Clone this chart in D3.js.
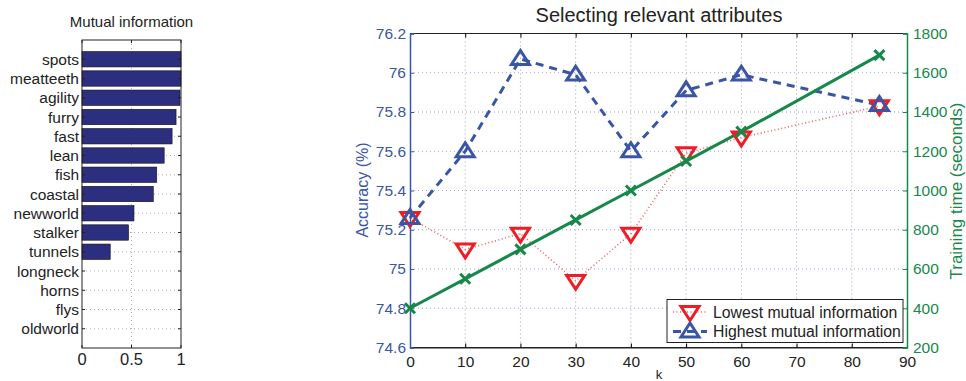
<!DOCTYPE html>
<html>
<head>
<meta charset="utf-8">
<script src="https://cdn.jsdelivr.net/npm/d3@7"></script>
<style>
  body { margin: 0; background: #fff; }
  svg { font-family: "Liberation Sans", Arial, sans-serif; }
</style>
</head>
<body>
<svg id="chart" width="966" height="381"></svg>
<script>
// Left panel: mutual information per attribute
const attributes = ["spots", "meatteeth", "agility", "furry", "fast", "lean", "fish", "coastal",
    "newworld", "stalker", "tunnels", "longneck", "horns", "flys", "oldworld"];
const mutualInfo = [1.0, 1.0, 0.99, 0.95, 0.91, 0.83, 0.755, 0.72, 0.525, 0.47, 0.285, 0, 0, 0, 0];
const miTicks = [0, 0.5, 1];

// Right panel: accuracy and training time vs k
const kValues = [0, 10, 20, 30, 40, 50, 60, 85];
const lowestMI = [75.26, 75.10, 75.18, 74.94, 75.18, 75.59, 75.67, 75.83];
const highestMI = [75.26, 75.60, 76.07, 75.99, 75.60, 75.91, 75.99, 75.835];
const trainTime = [400, 550, 700, 850, 1000, 1150, 1300, 1690];
const kTicks = [0, 10, 20, 30, 40, 50, 60, 70, 80, 90];
const accTicks = [74.6, 74.8, 75, 75.2, 75.4, 75.6, 75.8, 76, 76.2];
const timeTicks = [200, 400, 600, 800, 1000, 1200, 1400, 1600, 1800];

const blue = "#3a55a6";
const green = "#16884a";
const red = "#ee1c24";
const svg = d3.select("#chart");

// ---------- left bar chart ----------
const L = { left: 82, right: 181, top: 40, bottom: 348 };
const xMI = d3.scaleLinear().domain([0, 1]).range([L.left, L.right]);
const yCat = d3.scaleLinear().domain([0, attributes.length + 1]).range([L.top, L.bottom]);
const barH = (yCat(1) - yCat(0)) * 0.8;

const lg = svg.append("g");
// grid
lg.selectAll("line.hgrid").data(attributes).enter().append("line")
    .attr("x1", L.left).attr("x2", L.right)
    .attr("y1", (d, i) => yCat(i + 1)).attr("y2", (d, i) => yCat(i + 1))
    .attr("stroke", "#999").attr("stroke-width", 0.8).attr("stroke-dasharray", "1,3");
lg.selectAll("line.vgrid").data(miTicks.slice(1, -1)).enter().append("line")
    .attr("x1", d => xMI(d)).attr("x2", d => xMI(d))
    .attr("y1", L.top).attr("y2", L.bottom)
    .attr("stroke", "#999").attr("stroke-width", 0.8).attr("stroke-dasharray", "1,3");

lg.selectAll("rect.bar").data(mutualInfo).enter().append("rect")
    .attr("x", xMI(0))
    .attr("y", (d, i) => yCat(i + 1) - barH / 2)
    .attr("width", d => xMI(d) - xMI(0))
    .attr("height", d => d > 0 ? barH : 0)
    .attr("fill", "#2c2e80").attr("stroke", "#111").attr("stroke-width", 0.6);

lg.append("rect").attr("x", L.left).attr("y", L.top)
    .attr("width", L.right - L.left).attr("height", L.bottom - L.top)
    .attr("fill", "none").attr("stroke", "#222").attr("stroke-width", 1);

// category labels + ticks on both sides
attributes.forEach((a, i) => {
    const y = yCat(i + 1);
    lg.append("line").attr("x1", L.left).attr("x2", L.left + 3).attr("y1", y).attr("y2", y).attr("stroke", "#222");
    lg.append("line").attr("x1", L.right).attr("x2", L.right - 3).attr("y1", y).attr("y2", y).attr("stroke", "#222");
    lg.append("text").attr("x", L.left - 3).attr("y", y).attr("dy", "0.36em")
        .attr("text-anchor", "end").attr("font-size", 15.5).attr("fill", "#222").text(a);
});
miTicks.forEach(t => {
    lg.append("line").attr("x1", xMI(t)).attr("x2", xMI(t)).attr("y1", L.bottom).attr("y2", L.bottom - 3).attr("stroke", "#222");
    lg.append("line").attr("x1", xMI(t)).attr("x2", xMI(t)).attr("y1", L.top).attr("y2", L.top + 3).attr("stroke", "#222");
    lg.append("text").attr("x", xMI(t)).attr("y", 365)
        .attr("text-anchor", "middle").attr("font-size", 16.5).attr("fill", "#222").text(t);
});
lg.append("text").attr("x", (L.left + L.right) / 2).attr("y", 27)
    .attr("text-anchor", "middle").attr("font-size", 15).attr("fill", "#222").text("Mutual information");

// ---------- right line chart ----------
const R = { left: 410, right: 907, top: 33.5, bottom: 347.5 };
const x = d3.scaleLinear().domain([0, 90]).range([R.left, R.right]);
const yAcc = d3.scaleLinear().domain([74.6, 76.2]).range([R.bottom, R.top]);
const yTime = d3.scaleLinear().domain([200, 1800]).range([R.bottom, R.top]);

const rg = svg.append("g");
// grid
rg.selectAll("line.kgrid").data(kTicks.slice(1, -1)).enter().append("line")
    .attr("x1", d => x(d)).attr("x2", d => x(d)).attr("y1", R.top).attr("y2", R.bottom)
    .attr("stroke", "#888").attr("stroke-width", 0.8).attr("stroke-dasharray", "1,3");
rg.selectAll("line.agrid").data(accTicks.slice(1, -1)).enter().append("line")
    .attr("x1", R.left).attr("x2", R.right).attr("y1", d => yAcc(d)).attr("y2", d => yAcc(d))
    .attr("stroke", "#7b86d6").attr("stroke-width", 0.8).attr("stroke-dasharray", "1,3");

// top/bottom frame
rg.append("line").attr("x1", R.left).attr("x2", R.right).attr("y1", R.top).attr("y2", R.top).attr("stroke", "#222");
rg.append("line").attr("x1", R.left).attr("x2", R.right).attr("y1", R.bottom).attr("y2", R.bottom).attr("stroke", "#222");

// axes
rg.append("g").attr("transform", `translate(0,${R.bottom})`)
    .call(d3.axisBottom(x).tickValues(kTicks).tickSize(-4).tickPadding(8))
    .call(g => g.select(".domain").attr("stroke", "#222"))
    .call(g => g.selectAll("text").attr("font-size", 15.5).attr("fill", "#222"));
rg.append("g").attr("transform", `translate(0,${R.top})`)
    .call(d3.axisTop(x).tickValues(kTicks).tickSize(-4).tickFormat(""))
    .call(g => g.select(".domain").remove());
rg.append("g").attr("transform", `translate(${R.left},0)`)
    .call(d3.axisLeft(yAcc).tickValues(accTicks).tickSize(-4).tickPadding(4).tickFormat(d3.format("")))
    .call(g => g.select(".domain").attr("stroke", blue).attr("stroke-width", 1.5))
    .call(g => g.selectAll("line").attr("stroke", blue))
    .call(g => g.selectAll("text").attr("font-size", 15.5).attr("fill", blue));
rg.append("g").attr("transform", `translate(${R.right},0)`)
    .call(d3.axisRight(yTime).tickValues(timeTicks).tickSize(-4).tickPadding(6).tickFormat(d3.format("")))
    .call(g => g.select(".domain").attr("stroke", green).attr("stroke-width", 1.5))
    .call(g => g.selectAll("line").attr("stroke", green))
    .call(g => g.selectAll("text").attr("font-size", 15.5).attr("fill", green));
rg.selectAll(".tick text").attr("font-family", "\"Liberation Sans\", Arial, sans-serif");

// lines
const accLine = d3.line().x((d, i) => x(kValues[i])).y(d => yAcc(d));
const timeLine = d3.line().x((d, i) => x(kValues[i])).y(d => yTime(d));

rg.append("path").datum(lowestMI).attr("d", accLine).attr("fill", "none")
    .attr("stroke", red).attr("stroke-opacity", 0.7).attr("stroke-width", 1.6).attr("stroke-dasharray", "1,2.5");
rg.append("path").datum(highestMI).attr("d", accLine).attr("fill", "none")
    .attr("stroke", blue).attr("stroke-width", 3).attr("stroke-dasharray", "8,6");
rg.append("path").datum(trainTime).attr("d", timeLine).attr("fill", "none")
    .attr("stroke", green).attr("stroke-width", 3);

// markers
const tri = 9;
function triDown(cx, cy) {
    return `M${cx - tri},${cy - tri * 0.6}L${cx + tri},${cy - tri * 0.6}L${cx},${cy + tri * 0.95}Z`;
}
function triUp(cx, cy) {
    return `M${cx - tri},${cy + tri * 0.6}L${cx + tri},${cy + tri * 0.6}L${cx},${cy - tri * 0.95}Z`;
}
rg.selectAll("path.lo").data(lowestMI).enter().append("path")
    .attr("d", (d, i) => triDown(x(kValues[i]), yAcc(d)))
    .attr("fill", "none").attr("stroke", red).attr("stroke-width", 3);
rg.selectAll("path.hi").data(highestMI).enter().append("path")
    .attr("d", (d, i) => triUp(x(kValues[i]), yAcc(d)))
    .attr("fill", "none").attr("stroke", blue).attr("stroke-width", 3);
rg.selectAll("path.tt").data(trainTime).enter().append("path")
    .attr("d", (d, i) => {
        const cx = x(kValues[i]), cy = yTime(d), s = 5;
        return `M${cx - s},${cy - s}L${cx + s},${cy + s}M${cx - s},${cy + s}L${cx + s},${cy - s}`;
    })
    .attr("fill", "none").attr("stroke", green).attr("stroke-width", 3);

// titles
rg.append("text").attr("x", 659).attr("y", 22)
    .attr("text-anchor", "middle").attr("font-size", 20).attr("fill", "#222").text("Selecting relevant attributes");
rg.append("text").attr("x", 659).attr("y", 379)
    .attr("text-anchor", "middle").attr("font-size", 13).attr("fill", "#222").text("k");
rg.append("text").attr("transform", `translate(362,190) rotate(-90)`).attr("dy", "0.35em")
    .attr("text-anchor", "middle").attr("font-size", 16).attr("fill", blue).text("Accuracy (%)");
rg.append("text").attr("transform", `translate(956,191) rotate(-90)`).attr("dy", "0.35em")
    .attr("text-anchor", "middle").attr("font-size", 17).attr("fill", green).text("Training time (seconds)");

// legend
const leg = rg.append("g");
leg.append("rect").attr("x", 667).attr("y", 299.5).attr("width", 236).attr("height", 43)
    .attr("fill", "#fff").attr("stroke", "#222").attr("stroke-width", 1);
const legItems = [
    { label: "Lowest mutual information", color: red, dash: "1,2.5", width: 1.6, opacity: 0.7, shape: triDown },
    { label: "Highest mutual information", color: blue, dash: "8,6", width: 3, opacity: 1, shape: triUp }
];
legItems.forEach((it, i) => {
    const y = 312 + i * 19.5;
    leg.append("line").attr("x1", 673).attr("x2", 707).attr("y1", y).attr("y2", y)
        .attr("stroke", it.color).attr("stroke-width", it.width).attr("stroke-opacity", it.opacity)
        .attr("stroke-dasharray", it.dash);
    leg.append("path").attr("d", it.shape(690, y)).attr("fill", "none")
        .attr("stroke", it.color).attr("stroke-width", 3);
    leg.append("text").attr("x", 713).attr("y", y).attr("dy", "0.35em")
        .attr("font-size", 15.8).attr("fill", "#222").text(it.label);
});
</script>
</body>
</html>
